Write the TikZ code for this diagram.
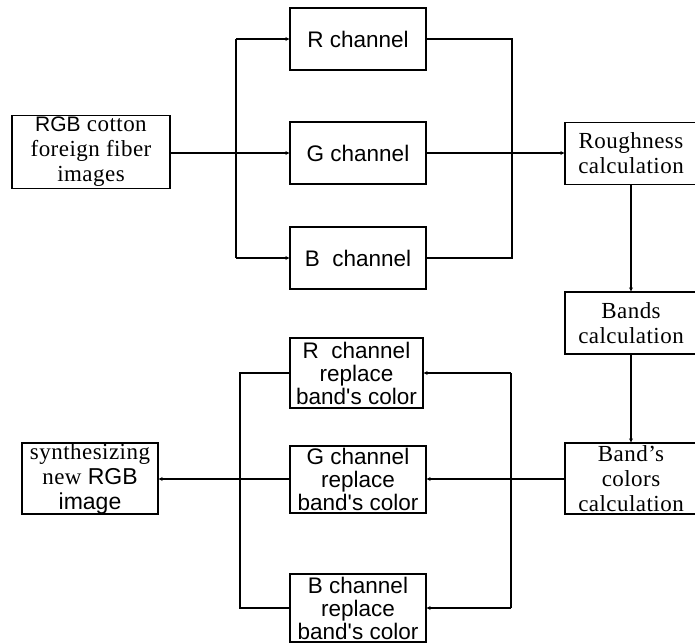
\documentclass[tikz,border=0pt]{standalone}
\usepackage{fontspec}
\setmainfont{Liberation Serif}[LetterSpace=2]
\newfontfamily\arl{Liberation Sans}
\usetikzlibrary{arrows.meta}
\tikzset{
  box/.style={draw, line width=1.2bp, inner sep=0pt, align=center, minimum width=136bp, minimum height=62bp,
    font=\fontsize{23bp}{25bp}\selectfont},
  sbox/.style={box, font=\arl\fontsize{22.5bp}{23bp}\selectfont},
  conn/.style={line width=1.2bp},
  arr/.style={conn, -{Stealth[length=4bp,width=4bp]}},
}
\begin{document}
\begin{tikzpicture}[x=1bp,y=-1bp]
\useasboundingbox (0,0) rectangle (695,644);
\node[box, minimum width=158bp, minimum height=73bp] (rgb) at (91,152) {{\arl\fontsize{21bp}{25bp}\selectfont RGB} cotton\\foreign fiber\\images};
\node[sbox] (rch) at (358,39) {R channel};
\node[sbox] (gch) at (358,153) {G channel};
\node[sbox] (bch) at (358,258) {B\ \ channel};
\node[box, minimum width=132bp] (rough) at (631,153.5) {Roughness\\calculation};
\node[box, minimum width=132bp] (bands) at (631,323) {Bands\\calculation};
\node[box, minimum width=132bp, minimum height=71bp] (bcol) at (631,478.5) {Band’s\\colors\\calculation};
\node[sbox, minimum width=133bp, minimum height=70bp] (rrep) at (356.5,373) {R\ \ channel\\replace\\band's color};
\node[sbox, minimum height=67bp] (grep) at (358,479.5) {G channel\\replace\\band's color};
\node[sbox, minimum height=68bp] (brep) at (358,608) {B channel\\replace\\band's color};
\node[box, minimum height=71bp] (synth) at (90,478.5) {synthesizing\\new {\arl RGB}\\{\arl image}};
% junctions
\coordinate (jl1) at (236,39);
\coordinate (jl2) at (236,153);
\coordinate (jl3) at (236,258);
\coordinate (jr1) at (512,39);
\coordinate (jr3) at (512,258);
\coordinate (kr1) at (511,373);
\coordinate (kr2) at (511,479);
\coordinate (kr3) at (511,608);
\coordinate (kl1) at (240,373);
\coordinate (kl2) at (240,479);
\coordinate (kl3) at (240,608);
% top section
\draw[conn] (rgb.east |- jl2) -- (jl2);
\draw[conn] (jl1) -- (jl3);
\draw[arr] (jl1) -- (rch.west |- jl1);
\draw[arr] (jl2) -- (gch.west |- jl2);
\draw[arr] (jl3) -- (bch.west |- jl3);
\draw[conn] (rch.east |- jr1) -- (jr1) -- (jr3) -- (bch.east |- jr3);
\draw[arr] (gch.east |- jl2) -- (rough.west |- jl2);
\draw[arr] (rough.south) -- (bands.north);
\draw[arr] (bands.south) -- (bcol.north);
% bottom section
\draw[conn] (bcol.west |- kr2) -- (kr2);
\draw[conn] (kr1) -- (kr3);
\draw[arr] (kr1) -- (rrep.east |- kr1);
\draw[arr] (kr2) -- (grep.east |- kr2);
\draw[arr] (kr3) -- (brep.east |- kr3);
\draw[conn] (rrep.west |- kl1) -- (kl1) -- (kl3) -- (brep.west |- kl3);
\draw[arr] (grep.west |- kl2) -- (synth.east |- kl2);
\end{tikzpicture}
\end{document}
